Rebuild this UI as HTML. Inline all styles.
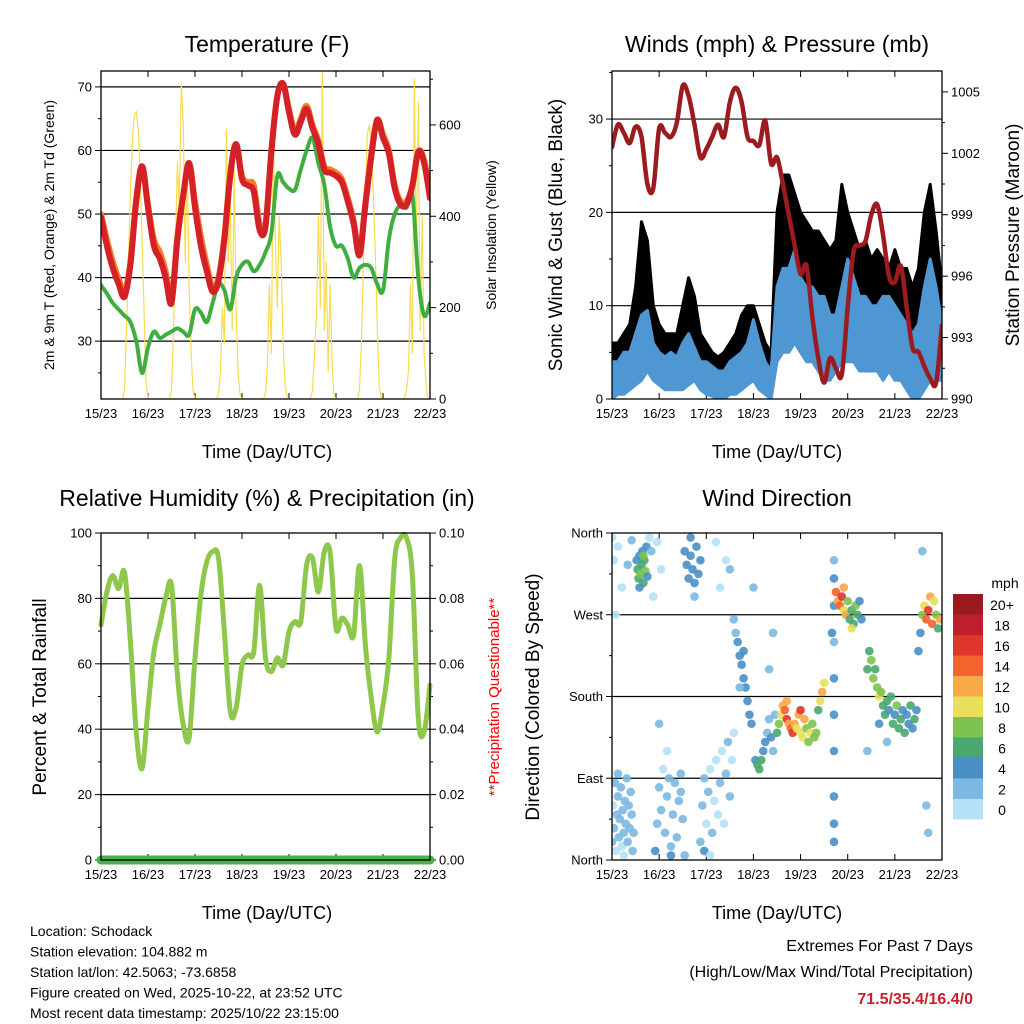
<!DOCTYPE html>
<html><head><meta charset="utf-8"><style>
body{margin:0;background:#fff}
svg{display:block;font-family:"Liberation Sans",sans-serif}
</style></head><body>
<svg id="s" width="1024" height="1024" viewBox="0 0 1024 1024" xmlns="http://www.w3.org/2000/svg"></svg>
<script>
// ---- data (3-hourly, hour = 3*index from 15/23) ----
const hours3 = Array.from({length:57},(_,i)=>i*3);
const dayLabels = ["15/23","16/23","17/23","18/23","19/23","20/23","21/23","22/23"];
const temp2m = [49.5,45,41.5,39,37,42,52,57.5,51,45,43,40,36,46,53,58,51,45,41,37.8,39.5,46,56,61,55.5,54.5,53.5,47.5,48,59.8,68.5,70.5,66,62.5,64.5,66.5,63.5,61,57,56.5,56,55,52,48.5,43.5,51.4,59,64.8,62,59.5,54,51.5,51.5,54.5,59.8,58,52.5];
const temp9m = [50,46,42.5,39.8,37.8,42.5,52.5,57.5,51.5,46,44,41,36.8,46.5,53,58,52,46.5,42,38.5,40,46.5,56.5,61,56,55,54.5,48.5,48.5,60,68.5,70.5,66.5,63,65,67,64,61.5,57.5,57,56.5,55.5,52.5,49,44,51.8,59.5,64.8,62.5,60,54.5,52,52,54.5,59.8,58.5,53];
const dewpt = [38.8,37.5,36,35,34,33,30,25,29,31.5,30.5,31,31.5,32,31.5,31,35,34.5,33,36,39,38,35,40,42,42.5,41,42,44,47,56,55,54,53.8,57,60,62,58,54.6,48,45,45,43,40,41.5,42,41.5,39,38,46,50,51.4,51,53,40,34,36];
const solarDays = [
 [0,0,0,0,0,0,0,0,0,0,0,0,20,150,300,450,560,620,630,590,490,350,190,40],
 [0,0,0,0,0,0,0,0,0,0,0,0,20,140,330,520,420,690,600,300,520,250,100,20],
 [0,0,0,0,0,0,0,0,0,0,0,0,10,60,200,120,590,300,440,150,500,200,60,10],
 [0,0,0,0,0,0,0,0,0,0,0,0,15,80,250,100,570,350,200,400,300,120,30,5],
 [0,0,0,0,0,0,0,0,0,0,0,0,20,100,180,400,200,720,150,300,60,250,80,10],
 [0,0,0,0,0,0,0,0,0,0,0,0,20,130,300,450,580,600,560,450,330,170,30,5],
 [0,0,0,0,0,0,0,0,0,0,0,0,20,60,250,100,700,300,650,150,400,100,30,0]];
const windLo = [0,0.5,0.5,1,1.5,2,3,2,1.5,1,1,1,1,1.5,2,1,0.5,0.3,0,0,0.5,0.5,1,1.5,2,1,0.5,0,4,5,5,6,5,4,4,3,2,2,3,4,4,4,3,3,3,3,2,3,2,2,1,0,0,1,2,2,2];
const windHi = [4,4,5,5,7,9,9.5,6,5,4.5,5,4.5,6,7,5.5,4,4,3.5,3,3,4,4.5,5,6,8.5,6,4,3,12,14,14,16,13,12,12,11,11,9,9,12,15,13,11,11,10,10,11,11,10,9,8,7,8,12,15,12,8];
const gustLo = [2,2,3,3,4,6,6,4,3,3,3,3,3,4,4,3,2,1.5,1.5,1.5,2,2,2,3,4,3,2,1,8,9,10,9,8,7,7,6,6,6,6,7,8,7,6,5,5,5,5,5,4,4,3,2,2,3,4,4,4];
const gustHi = [6,6,7,8,12,19,17,10,8,7,7,7,10,13,11,7,6,5,4.5,5,6,7,9,10,10,8,6,5,20,24,24,22,20,19,18,18,17,16,17,23,20,18,16,17,15,16,15,14,16,14,14,12,14,20,23,18,12];
const pressure = [1002.3,1003.4,1003,1002.5,1003.3,1002.8,1000.5,1000.3,1003.2,1003,1002.8,1003.5,1005.3,1004.8,1003.4,1001.8,1002.2,1002.8,1003.4,1002.8,1004.5,1005.2,1004.5,1002.8,1002.6,1002.4,1003.6,1001.5,1001.8,1000.5,999,997.5,996.1,996.5,994,992,990.8,992,991.5,991.2,994.5,997.2,997.5,997.7,999,999.5,998,996,995.7,996.5,994.5,992.5,992.3,991.6,991,990.8,993.6];
const rh = [71.9,82,87,83,88,66.8,39,28,46.5,63.7,71.9,80,84,56.6,41.3,37.3,61.8,81,91.2,94.3,92.3,69.8,45.4,46.5,59.6,62.7,63.7,84,61.8,57.6,61.8,59.6,69.8,72.9,72.9,90.2,92.3,82,94.3,94,70.9,74,71.9,68.8,90,65.7,49.5,39.2,47.4,61.8,92.3,98.5,98.5,87,43.4,39.2,53.5];
const precip = [0,0];
const dirHour = [0,0.5,1,1.5,2,2.5,3,3.5,4,4.5,5,5.5,6,6.5,7,7.5,8,8.5,9,9.5,10,10.5,11,6,3,0,1,3,5,8,2,10,12.5,13,13.5,14,14.5,15,15.5,16,16.5,17,17.5,18,14,16,19,20,21,23,25,22,23,24,25,26,27,28,29,30,31,32,33,34,35,36,37,24,28,30,35,37,38,39,40,41,42,43,44,45,40,42,45,46,47,48,49,50,51,52,53,54,55,56,57,58,59,60,61,62,47,50,55,58,60,53,62,63,64,65,66,67,68,69,70,71,67,65,72,73,74,75,76,77,78,79,80,81,82,83,84,80,82,85,86,87,88,89,90,91,92,93,94,95,96,97,98,99,100,101,102,103,104,105,106,107,108,96,89,113,113,113,113,113,113,113,113,113,113,112,114,115,116,117,118,119,120,121,122,123,124,125,126,127,118,122,130,131,132,133,134,135,136,137,138,139,140,141,142,143,144,145,146,147,148,149,150,151,152,153,154,155,130,136,140,156,157,158,159,160,161,162,163,164,165,166,167,160,161,158];
const dirDeg = [20,60,35,85,10,50,70,25,45,80,15,55,30,65,40,90,20,60,35,75,50,10,30,5,95,355,330,345,300,325,270,352,330,320,310,335,315,325,340,305,330,318,345,312,300,335,355,340,290,350,320,10,40,80,55,100,30,70,90,15,50,85,25,65,95,45,5,150,120,5,75,340,325,310,335,320,305,345,315,330,355,290,20,60,90,40,75,100,30,65,110,50,85,120,40,95,130,70,110,140,10,5,300,330,320,350,265,250,240,225,215,200,190,175,160,150,230,190,300,110,105,100,110,120,130,140,155,135,120,160,140,210,250,150,160,170,165,155,150,145,140,150,145,160,140,135,155,145,130,140,150,135,140,165,175,185,195,165,175,330,310,280,240,200,160,120,70,40,20,250,295,285,280,290,275,270,285,265,275,260,280,270,285,265,300,255,210,230,220,200,210,190,180,185,170,160,175,165,180,150,160,170,145,155,165,140,160,150,170,145,155,165,120,150,130,230,250,270,280,265,275,290,260,285,270,255,265,60,30,340];
const dirSpd = [2,1,2,2,1,2,2,2,2,3,1,2,2,2,2,3,2,2,2,2,2,2,2,1,2,1,1,1,1,2,1,2,4,6,7,5,8,7,4,6,7,8,4,4,5,9,1,2,1,1,1,4,2,2,2,1,2,2,2,2,2,2,2,2,2,2,2,2,1,4,3,4,4,4,5,4,4,4,5,4,4,2,2,2,2,1,2,1,2,1,1,1,2,1,1,2,2,2,1,1,4,1,1,1,2,1,3,2,4,4,4,4,4,4,4,4,4,2,2,4,7,6,7,4,4,3,2,4,3,2,7,2,2,8,10,12,14,16,12,15,17,12,10,13,11,10,12,8,8,10,9,8,8,7,10,12,10,16,12,3,4,4,3,4,4,4,4,4,4,5,15,12,14,17,10,13,8,6,7,7,8,6,5,4,12,10,6,6,8,8,7,8,10,8,7,6,6,4,6,6,5,8,6,6,4,6,5,4,6,4,6,4,3,4,2,4,5,8,10,14,16,12,14,10,8,6,12,3,2,3];
const colorLabels = ["20+","18","16","14","12","10","8","6","4","2","0"];
const colorVals = ["#9b1a1f","#bf1e2d","#e0352a","#f2632d","#f7a948","#e8e05a","#7dc24f","#49a870","#4a8fc6","#7cb8e2","#b5e1f7"];

const NS="http://www.w3.org/2000/svg";
const svg=document.getElementById('s');
function el(tag,attrs,parent,text){const e=document.createElementNS(NS,tag);for(const k in attrs)e.setAttribute(k,attrs[k]);if(text!==undefined)e.textContent=text;(parent||svg).appendChild(e);return e;}
function txt(x,y,s,size,anchor,name,extra){const t=el('text',Object.assign({x:x,y:y,'font-size':size,'text-anchor':anchor||'middle',fill:'#000'},extra||{}),svg,s);


return t;}

function panel(p){
 const g=el('g',{});
 
 
 p.g=g;
 p.x=h=>p.x0+h*(p.x1-p.x0)/168;
 p.y=v=>p.yb-(v-p.vmin)*(p.yb-p.yt)/(p.vmax-p.vmin);
 p.y2=v=>p.yb-(v-p.v2min)*(p.yb-p.yt)/(p.v2max-p.v2min);
 p.grid.forEach(v=>{const l=el('line',{x1:p.x0,x2:p.x1,y1:p.y(v),y2:p.y(v),stroke:'#000','stroke-width':1.2},g);
  
  });
 dayLabels.forEach((d,i)=>{const x=p.x(i*24);
  el('line',{x1:x,x2:x,y1:p.yb,y2:p.yb-6,stroke:'#000'},g);
  el('line',{x1:x,x2:x,y1:p.yt,y2:p.yt+6,stroke:'#000'},g);
  const t=el('text',{x:x,y:p.yb+19,'font-size':13,'text-anchor':'middle'},g,d);
  
  });
 p.ticks.forEach((v,i)=>{const y=p.y(v);
  el('line',{x1:p.x0-6,x2:p.x0,y1:y,y2:y,stroke:'#000'},g);
  const t=el('text',{x:p.x0-9,y:y+4.5,'font-size':13,'text-anchor':'end'},g,p.tickLabels?p.tickLabels[i]:v);
  
  });
 (p.minor||[]).forEach(v=>{const y=p.y(v);el('line',{x1:p.x0-3,x2:p.x0,y1:y,y2:y,stroke:'#000'},g);});
 (p.ticks2||[]).forEach((v,i)=>{const y=p.y2(v);
  el('line',{x1:p.x1,x2:p.x1+6,y1:y,y2:y,stroke:'#000'},g);
  const t=el('text',{x:p.x1+9,y:y+4.5,'font-size':13,'text-anchor':'start'},g,p.ticks2Labels?p.ticks2Labels[i]:v);
  
  });
 (p.minor2||[]).forEach(v=>{const y=p.y2(v);el('line',{x1:p.x1,x2:p.x1+3,y1:y,y2:y,stroke:'#000'},g);});
 p.data=el('g',{'clip-path':'url(#clip-'+p.id+')'},g);
 const cp=el('clipPath',{id:'clip-'+p.id},g);el('rect',{x:p.x0,y:p.yt,width:p.x1-p.x0,height:p.yb-p.yt},cp);
 return p;
}
function frame(p){const r=el('rect',{x:p.x0,y:p.yt,width:p.x1-p.x0,height:p.yb-p.yt,fill:'none',stroke:'#000','stroke-width':1.3},p.g);
 
 }
// smooth (Catmull-Rom) path
function smoothD(pts){let d='M'+pts[0][0].toFixed(1)+','+pts[0][1].toFixed(1);
 for(let i=0;i<pts.length-1;i++){const p0=pts[Math.max(0,i-1)],p1=pts[i],p2=pts[i+1],p3=pts[Math.min(pts.length-1,i+2)];
  const c1=[p1[0]+(p2[0]-p0[0])/6,p1[1]+(p2[1]-p0[1])/6],c2=[p2[0]-(p3[0]-p1[0])/6,p2[1]-(p3[1]-p1[1])/6];
  d+='C'+c1[0].toFixed(1)+','+c1[1].toFixed(1)+' '+c2[0].toFixed(1)+','+c2[1].toFixed(1)+' '+p2[0].toFixed(1)+','+p2[1].toFixed(1);}
 return d;}
function line(p,xs,ys,fy,attrs,name,smooth){const pts=xs.map((h,i)=>[p.x(h),fy(ys[i])]);
 const d=smooth?smoothD(pts):pts.map((q,i)=>(i?'L':'M')+q[0].toFixed(1)+','+q[1].toFixed(1)).join('');
 const e=el('path',Object.assign({d:d,fill:'none','stroke-linejoin':'round','stroke-linecap':'round'},attrs),p.data);
 
 return e;}
function band(p,xs,lo,hi,fy,fill,name){let d=xs.map((h,i)=>(i?'L':'M')+p.x(h).toFixed(1)+','+fy(hi[i]).toFixed(1)).join('');
 for(let i=xs.length-1;i>=0;i--)d+='L'+p.x(xs[i]).toFixed(1)+','+fy(lo[i]).toFixed(1);
 const e=el('path',{d:d+'Z',fill:fill,stroke:fill,'stroke-width':3,'stroke-linejoin':'round'},p.data);
 
 return e;}

// ---- Panel 1 temperature ----
const P1=panel({id:1,name:'temperature-panel',x0:101,x1:430,yt:71,yb:399,vmin:20.9,vmax:72.5,v2min:0,v2max:718,
 grid:[30,40,50,60,70],ticks:[30,40,50,60,70],minor:[25,35,45,55,65],ticks2:[0,200,400,600],minor2:[100,300,500,700]});
const solarH=[],solarV=[];solarDays.forEach((d,i)=>d.forEach((v,j)=>{solarH.push(i*24+j);solarV.push(v);}));
solarH.push(168);solarV.push(0);
line(P1,solarH,solarV,P1.y2,{stroke:'#f8dc50','stroke-width':1.2},'solar-insolation-line');
line(P1,hours3,dewpt,P1.y,{stroke:'#3fae3f','stroke-width':4,'stroke-dasharray':'3 1.5'},'dewpoint-line',true);
line(P1,hours3,temp9m,P1.y,{stroke:'#f47a2a','stroke-width':6},'temp-9m-line',true);
line(P1,hours3,temp2m,P1.y,{stroke:'#d42027','stroke-width':6},'temp-2m-line',true);
frame(P1);
txt(267,52,'Temperature (F)',23,'middle','temperature-title');
txt(267,458,'Time (Day/UTC)',18,'middle','temperature-x-title');
txt(0,0,'2m & 9m T (Red, Orange) & 2m Td (Green)',14,'middle','temperature-y-title',{transform:'translate(54,235) rotate(-90)'});
txt(0,0,'Solar Insolation (Yellow)',14,'middle','solar-y-title',{transform:'translate(496,235) rotate(-90)'});

// ---- Panel 2 winds ----
const P2=panel({id:2,name:'winds-panel',x0:612,x1:942,yt:71,yb:399,vmin:0,vmax:35.15,v2min:990,v2max:1006.02,
 grid:[10,20,30],ticks:[0,10,20,30],minor:[5,15,25,35],ticks2:[990,993,996,999,1002,1005],minor2:[991.5,994.5,997.5,1000.5,1003.5]});
band(P2,hours3,gustLo,gustHi,P2.y,'#000','gust-band');
band(P2,hours3,windLo,windHi,P2.y,'#4f97d3','wind-band');
line(P2,hours3,pressure,P2.y2,{stroke:'#9b1b1f','stroke-width':4.5},'pressure-line',true);
frame(P2);
txt(777,52,'Winds (mph) & Pressure (mb)',23,'middle','winds-title');
txt(777,458,'Time (Day/UTC)',18,'middle','winds-x-title');
txt(0,0,'Sonic Wind & Gust (Blue, Black)',19,'middle','winds-y-title',{transform:'translate(562,235) rotate(-90)'});
txt(0,0,'Station Pressure (Maroon)',19,'middle','pressure-y-title',{transform:'translate(1019,235) rotate(-90)'});

// ---- Panel 3 RH ----
const P3=panel({id:3,name:'humidity-panel',x0:101,x1:430,yt:533,yb:860,vmin:0,vmax:100,v2min:0,v2max:0.1,
 grid:[20,40,60,80],ticks:[0,20,40,60,80,100],minor:[10,30,50,70,90],ticks2:[0,0.02,0.04,0.06,0.08,0.1],ticks2Labels:['0.00','0.02','0.04','0.06','0.08','0.10'],minor2:[0.01,0.03,0.05,0.07,0.09]});
line(P3,hours3,rh,P3.y,{stroke:'#8dc84c','stroke-width':5},'rh-line',true);
frame(P3);
line(P3,[0,168],precip,P3.y2,{stroke:'#4cb04a','stroke-width':9},'precip-line');
P3.data.removeAttribute('clip-path');
txt(267,506,'Relative Humidity (%) & Precipitation (in)',23,'middle','humidity-title');
txt(267,919,'Time (Day/UTC)',18,'middle','humidity-x-title');
txt(0,0,'Percent & Total Rainfall',19,'middle','humidity-y-title',{transform:'translate(46,697) rotate(-90)'});
txt(0,0,'**Precipitation Questionable**',15,'middle','precip-warning',{transform:'translate(499,697) rotate(-90)',fill:'#ff0000'});

// ---- Panel 4 direction ----
const P4=panel({id:4,name:'wind-direction-panel',x0:612,x1:942,yt:533,yb:860,vmin:0,vmax:360,
 grid:[90,180,270],ticks:[0,90,180,270,360],tickLabels:['North','East','South','West','North'],minor:[45,135,225,315]});
const colorOf=s=>colorVals[10-Math.min(10,Math.floor(s/2))];
dirHour.forEach((h,i)=>{const c=el('circle',{cx:P4.x(h),cy:P4.y(dirDeg[i]),r:4.3,fill:colorOf(dirSpd[i]),'fill-opacity':0.9},P4.data);
 
 });
frame(P4);
txt(777,506,'Wind Direction',23,'middle','direction-title');
txt(777,919,'Time (Day/UTC)',18,'middle','direction-x-title');
txt(0,0,'Direction (Colored By Speed)',19,'middle','direction-y-title',{transform:'translate(539,697) rotate(-90)'});
txt(1005,588,'mph',14,'middle','colorbar-title');
colorLabels.forEach((lab,i)=>{const y=594+i*20.5;
 const r=el('rect',{x:953,y:y,width:30,height:20.5,fill:colorVals[i]});
 
 
 txt(1002,y+16,lab,14,'middle','colorbar-label');});

// ---- footer ----
const info=['Location: Schodack','Station elevation: 104.882 m','Station lat/lon: 42.5063; -73.6858','Figure created on Wed, 2025-10-22, at 23:52 UTC','Most recent data timestamp: 2025/10/22 23:15:00'];
info.forEach((s,i)=>txt(30,936+i*20.5,s,14,'start','station-info-line'));
txt(973,951,'Extremes For Past 7 Days',16,'end','extremes-title');
txt(973,977,'(High/Low/Max Wind/Total Precipitation)',16,'end','extremes-subtitle');
txt(973,1004,'71.5/35.4/16.4/0',16,'end','extremes-values',{fill:'#c8202f','font-weight':'bold'});
</script>
</body></html>
